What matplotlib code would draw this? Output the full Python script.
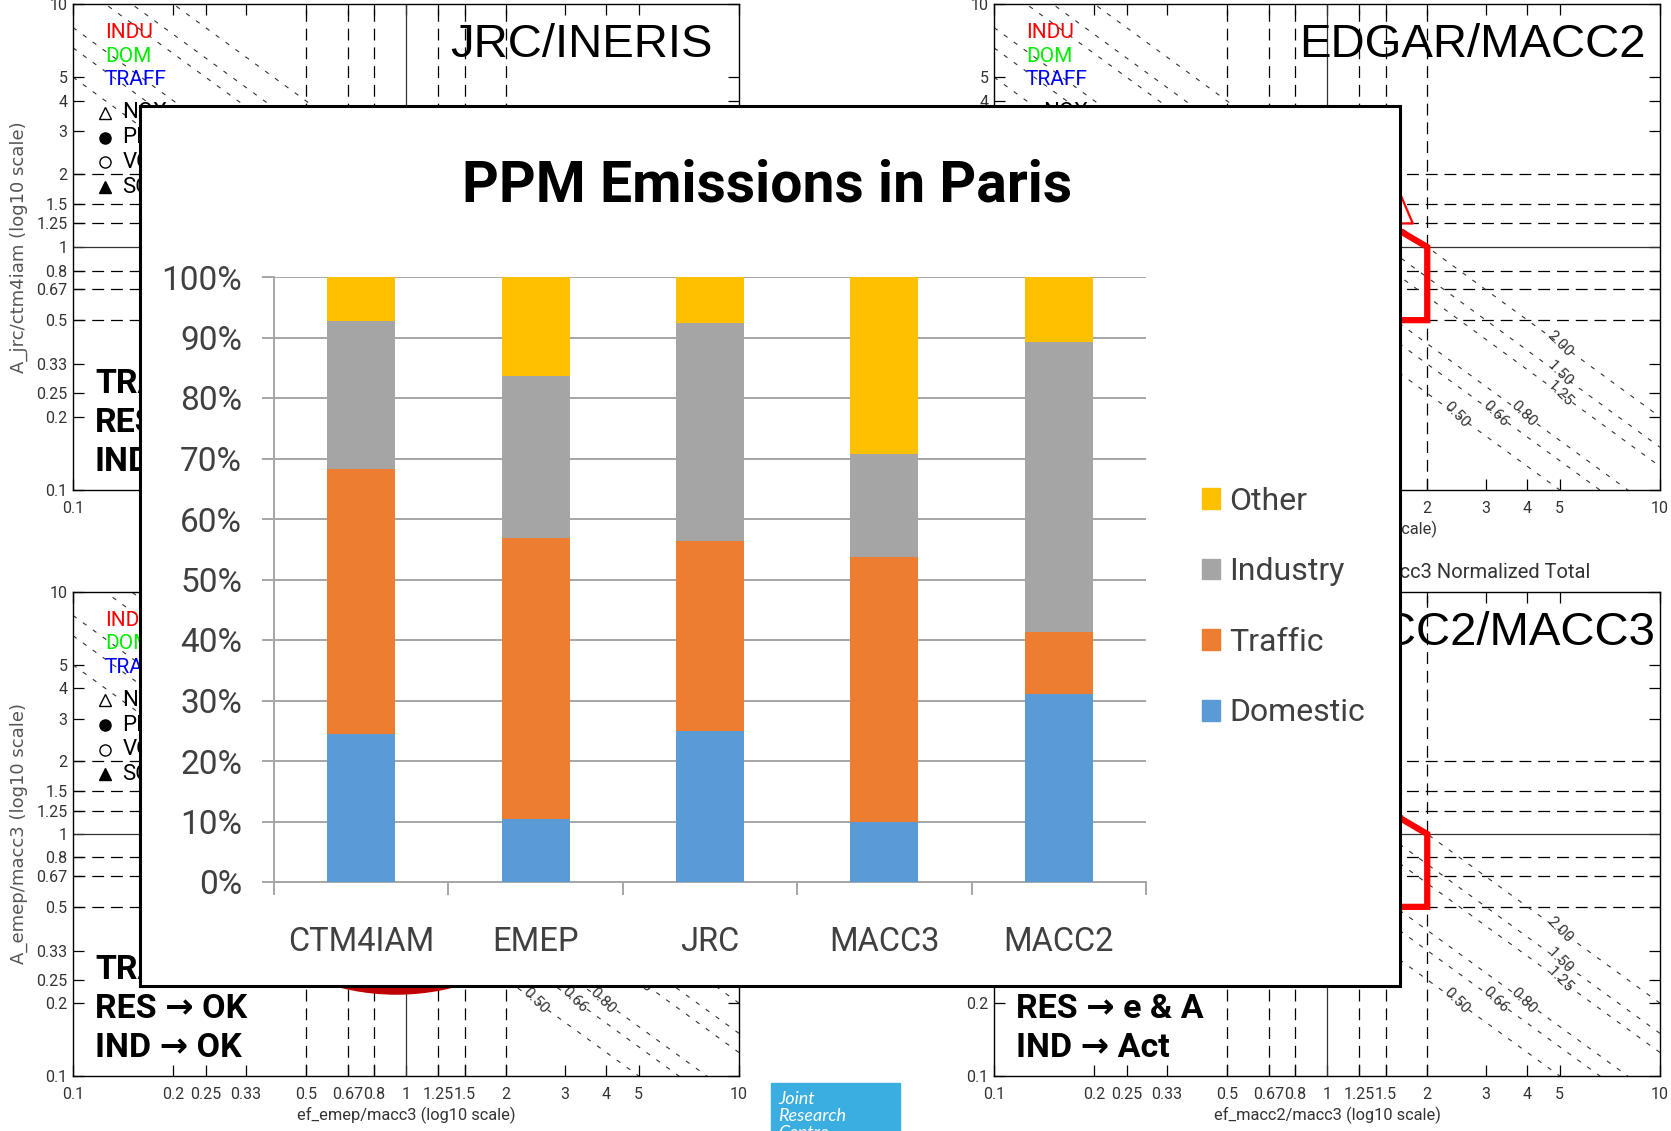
import numpy as np
import matplotlib
matplotlib.use('Agg')
import matplotlib.pyplot as plt
import matplotlib.font_manager as fm
from matplotlib.patches import Patch, Rectangle

# --- inset bar chart data (share of PPM emissions, %) ---
categories = ['CTM4IAM', 'EMEP', 'JRC', 'MACC3', 'MACC2']
domestic = [24.4, 10.4, 25.0, 9.9, 31.0]
traffic = [43.8, 46.5, 31.4, 43.9, 10.4]
industry = [24.6, 26.8, 36.0, 17.0, 47.8]
other = [7.2, 16.3, 7.6, 29.2, 10.8]
sectors = ['Domestic', 'Traffic', 'Industry', 'Other']
sector_colors = ['#5b9bd5', '#ed7d31', '#a5a5a5', '#ffc000']

# --- background log-log panels ---
ratio_ticks = [0.1, 0.2, 0.25, 0.33, 0.5, 0.67, 0.8, 1, 1.25, 1.5, 2, 3, 4, 5, 10]
ratio_labels = ['0.1', '0.2', '0.25', '0.33', '0.5', '0.67', '0.8', '1', '1.25', '1.5', '2', '3', '4', '5', '10']
guide_levels = [0.5, 0.67, 0.8, 1.25, 1.5, 2]
iso_levels = [0.5, 0.66, 0.8, 1.25, 1.5, 2.0]
iso_labels = ['0.50', '0.66', '0.80', '1.25', '1.50', '2.00']
iso_label_x = [2.45, 3.2, 3.9, 5.0, 5.0, 5.0]
panel_titles = ['JRC/INERIS', 'EDGAR/MACC2', 'EMEP/MACC3', 'MACC2/MACC3']
panel_xlabels = ['ef_jrc/ctm4iam (log10 scale)', 'ef_edgar/macc2 (log10 scale)',
                 'ef_emep/macc3 (log10 scale)', 'ef_macc2/macc3 (log10 scale)']
panel_ylabels = ['A_jrc/ctm4iam (log10 scale)', 'A_edgar/macc2 (log10 scale)',
                 'A_emep/macc3 (log10 scale)', 'A_macc2/macc3 (log10 scale)']
panel_notes = [['TRA', 'RES', 'IND'],
               ['TRA', 'RES', 'IND'],
               ['TRA', 'RES \u2192 OK', 'IND \u2192 OK'],
               ['', 'RES \u2192 e & A', 'IND \u2192 Act']]
sector_names = ['INDU', 'DOM', 'TRAFF']
sector_name_colors = ['#ff0000', '#00ee00', '#0000ff']
species = ['NOX', 'PM', 'VOC', 'SO2']
species_markers = ['^', 'o', 'o', '^']
species_filled = [False, True, False, True]
red_x = [1.0, 2.0, 2.0, 1.0]
red_y = [1.75, 1.0, 0.5, 0.5]
tri_x = [1.5, 1.81, 1.66, 1.5]
tri_y = [1.25, 1.25, 1.65, 1.25]

installed = {f.name for f in fm.fontManager.ttflist}
NARROW = 'Liberation Sans Narrow' if 'Liberation Sans Narrow' in installed else 'Roboto'
plt.rcParams['font.family'] = [NARROW, 'DejaVu Sans']

W, H = 1671, 1131
INSET = (140, 106, 1400, 986)   # slide box, pixels from top-left
fig = plt.figure(figsize=(W / 100, H / 100), dpi=100, facecolor='white')
panel_texts = []


def px_rect(x0, y0, x1, y1):
    return [x0 / W, 1 - y1 / H, (x1 - x0) / W, (y1 - y0) / H]


def draw_panel(rect, idx, title_x):
    ax = fig.add_axes(px_rect(*rect))
    ax.set_xscale('log')
    ax.set_yscale('log')
    ax.set_xlim(0.1, 10)
    ax.set_ylim(0.1, 10)
    ax.set_xticks(ratio_ticks)
    ax.set_xticklabels(ratio_labels)
    ax.set_yticks(ratio_ticks)
    ax.set_yticklabels(ratio_labels)
    ax.minorticks_off()
    ax.tick_params(which='both', direction='in', top=True, right=True, length=8,
                   width=0.9, labelsize=11.5, labelcolor='#333333')
    ax.tick_params(axis='x', pad=8)
    ax.tick_params(axis='y', pad=4)
    for sp in ax.spines.values():
        sp.set_linewidth(1.0)

    # guide lines
    for g in guide_levels:
        ax.axvline(g, color='k', lw=0.9, ls=(0, (9.5, 5.5)))
        ax.axhline(g, color='k', lw=0.9, ls=(0, (9.5, 5.5)))
    ax.axvline(1, color='#333333', lw=0.9)
    ax.axhline(1, color='#333333', lw=0.9)

    # iso lines x*y = c
    xs = np.logspace(-1, 1, 200)
    for c, lab, lx in zip(iso_levels, iso_labels, iso_label_x):
        ax.plot(xs, c / xs, color='#333333', lw=0.8, ls=(0, (4, 7)))
        panel_texts.append(ax.text(lx, c / lx, lab, rotation=-45, ha='center',
                                   va='center', fontsize=11, color='#333333'))

    # legends written in the corner
    for i, (nm, col) in enumerate(zip(sector_names, sector_name_colors)):
        panel_texts.append(ax.text(0.048, 0.942 - i * 0.049, nm, transform=ax.transAxes,
                                   color=col, fontsize=15, va='center', ha='left'))
    for i, (sp_name, mk, filled) in enumerate(zip(species, species_markers, species_filled)):
        yy = 0.776 - i * 0.051
        ax.plot([0.048], [yy], marker=mk, ms=8, mec='k', mfc='k' if filled else 'white',
                transform=ax.transAxes, clip_on=False)
        panel_texts.append(ax.text(0.074, yy, sp_name, transform=ax.transAxes, fontsize=16,
                                   va='center', ha='left', color='k'))

    # status notes
    for i, note in enumerate(panel_notes[idx]):
        if note:
            panel_texts.append(ax.text(0.033, 0.218 - i * 0.08, note, transform=ax.transAxes,
                                       fontsize=24.5, fontweight='bold', va='center', ha='left'))

    panel_texts.append(ax.text(title_x, 0.915, panel_titles[idx], transform=ax.transAxes,
                               ha='right', va='center', fontsize=34,
                               family=['Liberation Sans', 'DejaVu Sans']))
    panel_texts.append(ax.text(0.5, -0.081, panel_xlabels[idx], transform=ax.transAxes,
                               ha='center', va='center', fontsize=11.8, color='#333333'))
    panel_texts.append(ax.text(-0.081, 0.5, panel_ylabels[idx], transform=ax.transAxes,
                               ha='center', va='center', rotation=90, fontsize=13,
                               color='#555555', family=['DejaVu Sans']))
    return ax


ax_tl = draw_panel((73, 4, 739, 490), 0, 0.961)
ax_tr = draw_panel((994, 4, 1660, 490), 1, 0.979)
ax_bl = draw_panel((73, 592, 739, 1076), 2, 0.99)
ax_br = draw_panel((994, 592, 1660, 1076), 3, 0.992)

for ax in (ax_tr, ax_br):
    ax.plot(red_x, red_y, color='#ff0000', lw=4.5, solid_joinstyle='miter')
ax_tr.plot(tri_x, tri_y, color='#ff0000', lw=1.6)
ax_bl.plot([0.933], [1.96], marker='o', ms=333, color='#c00000', mec='none')

fig.text(1590 / W, 1 - 573 / H, 'macc3 Normalized Total', ha='right',
         va='center', fontsize=14.5, color='#333333')

# JRC logo box
fig.add_artist(Rectangle((771 / W, 0), (900 - 771) / W, (1131 - 1083) / H,
                         transform=fig.transFigure, color='#3aaee0', zorder=3))
fig.text(778 / W, 1 - 1091 / H, 'Joint\nResearch\nCentre', ha='left', va='top',
         fontsize=13, color='white', style='italic', linespacing=1.08,
         family=['Lato', 'DejaVu Sans'], zorder=4)

# texts of the background panels that sit completely under the slide are dropped
renderer = fig.canvas.get_renderer()
x0, x1 = INSET[0], INSET[2]
y0, y1 = H - INSET[3], H - INSET[1]


def covered(t):
    bb = t.get_window_extent(renderer)
    return bb.x0 > x0 and bb.x1 < x1 and bb.y0 > y0 and bb.y1 < y1


for t in panel_texts:
    if covered(t):
        t.remove()
for ax in (ax_tl, ax_tr, ax_bl, ax_br):
    for t in ax.get_xticklabels() + ax.get_yticklabels():
        if covered(t):
            t.set_visible(False)

# --- inset slide with the stacked bar chart ---
ax_frame = fig.add_axes(px_rect(*INSET), zorder=5)
ax_frame.set_facecolor('white')
ax_frame.set_xticks([])
ax_frame.set_yticks([])
for sp in ax_frame.spines.values():
    sp.set_linewidth(2.2)
    sp.set_color('black')

ax = fig.add_axes(px_rect(274, 277, 1146, 882), zorder=6)
ax.set_facecolor('none')
x = np.arange(len(categories))
series = [domestic, traffic, industry, other]
bottom = np.zeros(len(categories))
handles = []
for vals, name, col in zip(series, sectors, sector_colors):
    ax.bar(x, vals, width=0.39, bottom=bottom, color=col, zorder=3)
    bottom += np.array(vals)
    handles.append(Patch(color=col, label=name))

ax.set_xlim(-0.5, len(categories) - 0.5)
ax.set_ylim(0, 100)
ax.set_yticks(np.arange(0, 101, 10))
ax.set_yticklabels([f'{v}%' for v in range(0, 101, 10)])
ax.set_xticks(x)
ax.set_xticklabels(categories)
ax.set_xticks(np.arange(-0.5, len(categories), 1.0), minor=True)
ax.yaxis.grid(True, color='#a6a6a6', lw=1.4, zorder=0)
ax.set_axisbelow(True)
for s in ('top', 'right'):
    ax.spines[s].set_visible(False)
for s in ('left', 'bottom'):
    ax.spines[s].set_color('#a6a6a6')
    ax.spines[s].set_linewidth(1.4)
ax.tick_params(axis='x', which='major', length=0, pad=32, labelsize=23.5, labelcolor='#404040')
ax.tick_params(axis='x', which='minor', length=9, width=1.4, color='#a6a6a6', direction='out')
ax.tick_params(axis='y', length=9, width=1.4, color='#a6a6a6', pad=14, labelsize=24,
               labelcolor='#404040')

leg = ax.legend(handles[::-1], [h.get_label() for h in handles[::-1]], loc='center left',
                bbox_to_anchor=(1202 / W, 1 - 607 / H), bbox_transform=fig.transFigure,
                frameon=False, fontsize=23, handlelength=0.56, handleheight=0.63,
                handletextpad=0.3, labelspacing=1.3, borderpad=0, borderaxespad=0)
for t in leg.get_texts():
    t.set_color('#404040')

fig.text(767 / W, 1 - 186 / H, 'PPM Emissions in Paris', ha='center', va='center',
         fontsize=41, fontweight='bold', color='black', zorder=7)

fig.savefig('out.png', dpi=100, facecolor='white')
